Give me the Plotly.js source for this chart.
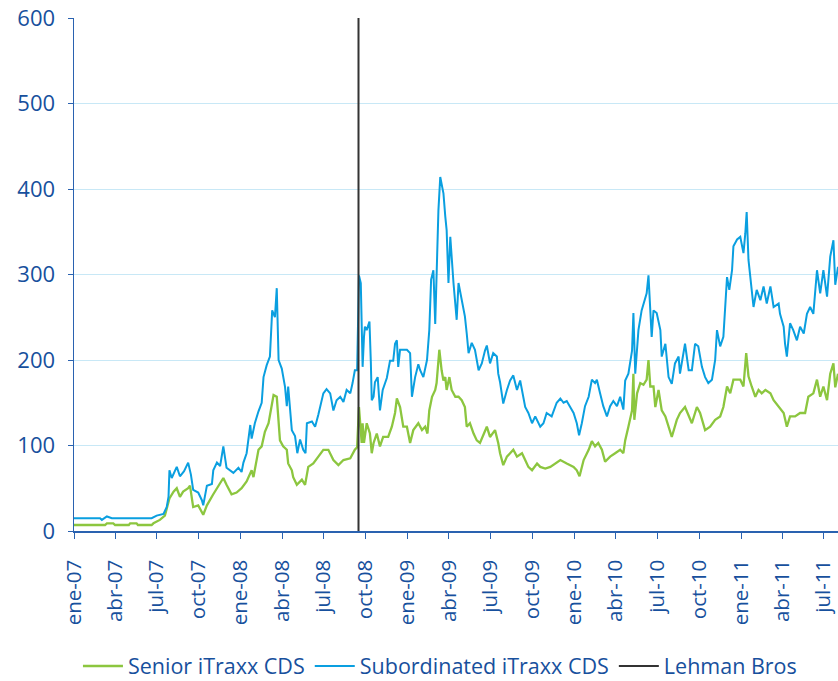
<!DOCTYPE html>
<html>
<head>
<meta charset="utf-8">
<script src="https://cdn.plot.ly/plotly-3.0.1.min.js"></script>
<style>html,body{margin:0;padding:0;background:#fff;}#chart{width:838px;height:681px;}</style>
</head>
<body>
<div id="chart"></div>
<script>
// Quarterly tick positions and Spanish labels
const tickDates = ['2007-01-01','2007-04-01','2007-07-01','2007-10-01','2008-01-01','2008-04-01','2008-07-01','2008-10-01','2009-01-01','2009-04-01','2009-07-01','2009-10-01','2010-01-01','2010-04-01','2010-07-01','2010-10-01','2011-01-01','2011-04-01','2011-07-01'];
const tickLabels = ['ene-07','abr-07','jul-07','oct-07','ene-08','abr-08','jul-08','oct-08','ene-09','abr-09','jul-09','oct-09','ene-10','abr-10','jul-10','oct-10','ene-11','abr-11','jul-11'];

// Subordinated iTraxx CDS (bp)
const subDates = ['2007-01-01','2007-02-27','2007-03-03','2007-03-14','2007-03-25','2007-06-20','2007-07-01','2007-07-16','2007-07-23','2007-07-27','2007-07-29','2007-08-03','2007-08-14','2007-08-21','2007-08-30','2007-09-08','2007-09-14','2007-09-19','2007-09-30','2007-10-08','2007-10-11','2007-10-19','2007-10-30','2007-11-02','2007-11-10','2007-11-17','2007-11-24','2007-12-01','2007-12-16','2007-12-27','2008-01-03','2008-01-07','2008-01-14','2008-01-22','2008-01-25','2008-02-01','2008-02-09','2008-02-16','2008-02-20','2008-02-27','2008-03-05','2008-03-10','2008-03-16','2008-03-20','2008-03-24','2008-03-31','2008-04-07','2008-04-11','2008-04-14','2008-04-18','2008-04-22','2008-04-29','2008-05-04','2008-05-10','2008-05-17','2008-05-22','2008-05-25','2008-06-05','2008-06-12','2008-06-19','2008-06-30','2008-07-07','2008-07-15','2008-07-22','2008-07-29','2008-08-06','2008-08-13','2008-08-20','2008-08-28','2008-09-02','2008-09-07','2008-09-12','2008-09-16','2008-09-20','2008-09-22','2008-09-24','2008-09-27','2008-09-29','2008-10-03','2008-10-09','2008-10-12','2008-10-14','2008-10-18','2008-10-21','2008-10-27','2008-11-01','2008-11-07','2008-11-12','2008-11-16','2008-11-23','2008-11-30','2008-12-04','2008-12-08','2008-12-11','2008-12-15','2008-12-22','2008-12-30','2009-01-06','2009-01-10','2009-01-17','2009-01-24','2009-01-28','2009-02-04','2009-02-12','2009-02-17','2009-02-21','2009-02-26','2009-03-02','2009-03-05','2009-03-09','2009-03-13','2009-03-16','2009-03-20','2009-03-24','2009-03-27','2009-03-31','2009-04-04','2009-04-11','2009-04-15','2009-04-18','2009-04-22','2009-05-03','2009-05-06','2009-05-10','2009-05-14','2009-05-21','2009-05-28','2009-06-05','2009-06-12','2009-06-19','2009-06-23','2009-06-30','2009-07-07','2009-07-15','2009-07-18','2009-07-22','2009-07-29','2009-08-06','2009-08-13','2009-08-20','2009-08-28','2009-09-04','2009-09-11','2009-09-15','2009-09-22','2009-09-30','2009-10-07','2009-10-18','2009-10-25','2009-11-01','2009-11-12','2009-11-23','2009-12-01','2009-12-08','2009-12-15','2009-12-22','2009-12-30','2010-01-06','2010-01-11','2010-01-17','2010-01-24','2010-02-01','2010-02-08','2010-02-15','2010-02-19','2010-02-26','2010-03-05','2010-03-13','2010-03-20','2010-03-27','2010-04-04','2010-04-11','2010-04-18','2010-04-22','2010-04-29','2010-05-07','2010-05-10','2010-05-14','2010-05-18','2010-05-21','2010-05-28','2010-06-01','2010-06-08','2010-06-12','2010-06-16','2010-06-19','2010-06-23','2010-06-30','2010-07-08','2010-07-11','2010-07-19','2010-07-26','2010-08-02','2010-08-09','2010-08-17','2010-08-20','2010-08-31','2010-09-08','2010-09-15','2010-09-22','2010-09-29','2010-10-07','2010-10-14','2010-10-21','2010-10-29','2010-11-05','2010-11-09','2010-11-16','2010-11-23','2010-12-01','2010-12-06','2010-12-12','2010-12-15','2010-12-23','2010-12-30','2011-01-06','2011-01-10','2011-01-13','2011-01-17','2011-01-21','2011-01-28','2011-02-04','2011-02-12','2011-02-19','2011-02-26','2011-03-06','2011-03-13','2011-03-24','2011-03-27','2011-04-04','2011-04-07','2011-04-11','2011-04-18','2011-04-25','2011-05-03','2011-05-10','2011-05-18','2011-05-25','2011-06-01','2011-06-08','2011-06-16','2011-06-23','2011-06-30','2011-07-08','2011-07-15','2011-07-22','2011-07-26','2011-08-01'];
const subValues = [15,15,13,17,15,15,18,20,28,40,71,62,75,64,70,80,66,48,45,36,30,53,55,71,80,76,99,74,68,74,69,80,91,124,108,126,140,150,180,194,204,258,250,284,200,190,169,146,169,141,118,111,91,107,95,91,126,128,122,136,161,166,161,141,153,157,151,165,161,173,188,188,299,290,251,192,227,239,235,245,198,153,157,174,180,141,165,173,179,199,199,219,223,192,212,212,212,208,157,180,195,188,180,200,235,294,305,242,297,375,414,406,395,368,352,290,344,290,266,247,290,261,251,231,208,220,212,188,196,211,217,196,208,204,184,174,149,165,176,182,165,176,157,145,138,126,134,122,126,138,134,150,155,150,152,146,138,126,112,126,146,157,177,173,177,161,146,134,146,152,146,157,142,176,184,211,255,184,211,235,258,266,278,299,262,227,258,255,235,204,219,180,172,196,204,184,219,188,188,219,216,192,180,173,177,200,235,216,227,297,282,305,333,341,344,325,348,373,317,294,262,282,270,286,266,286,262,266,254,239,219,204,243,235,223,239,231,254,262,254,305,278,305,274,321,340,288,309];

// Senior iTraxx CDS (bp)
const senDates = ['2007-01-01','2007-03-10','2007-03-14','2007-03-28','2007-04-01','2007-05-01','2007-05-04','2007-05-18','2007-05-21','2007-06-20','2007-06-24','2007-07-08','2007-07-19','2007-07-29','2007-08-07','2007-08-14','2007-08-21','2007-08-28','2007-09-08','2007-09-12','2007-09-19','2007-09-30','2007-10-11','2007-10-19','2007-11-02','2007-11-13','2007-11-24','2007-12-01','2007-12-12','2007-12-23','2008-01-03','2008-01-14','2008-01-25','2008-01-29','2008-02-09','2008-02-16','2008-02-23','2008-03-02','2008-03-09','2008-03-13','2008-03-20','2008-03-24','2008-03-27','2008-04-03','2008-04-11','2008-04-14','2008-04-22','2008-04-25','2008-05-03','2008-05-14','2008-05-21','2008-05-28','2008-06-08','2008-06-19','2008-06-30','2008-07-11','2008-07-22','2008-08-02','2008-08-13','2008-08-28','2008-09-07','2008-09-12','2008-09-16','2008-09-22','2008-09-24','2008-09-27','2008-10-03','2008-10-10','2008-10-14','2008-10-18','2008-10-25','2008-11-01','2008-11-08','2008-11-19','2008-11-27','2008-12-04','2008-12-08','2008-12-15','2008-12-19','2008-12-22','2008-12-30','2009-01-06','2009-01-13','2009-01-24','2009-02-01','2009-02-08','2009-02-13','2009-02-17','2009-02-23','2009-03-02','2009-03-05','2009-03-11','2009-03-16','2009-03-20','2009-03-24','2009-03-27','2009-04-02','2009-04-07','2009-04-15','2009-04-22','2009-04-29','2009-05-06','2009-05-10','2009-05-17','2009-05-25','2009-06-01','2009-06-08','2009-06-16','2009-06-23','2009-06-30','2009-07-11','2009-07-18','2009-07-22','2009-07-29','2009-08-06','2009-08-13','2009-08-20','2009-08-28','2009-09-08','2009-09-15','2009-09-22','2009-09-30','2009-10-11','2009-10-18','2009-10-29','2009-11-09','2009-11-20','2009-12-01','2009-12-15','2009-12-30','2010-01-06','2010-01-12','2010-01-21','2010-02-01','2010-02-08','2010-02-15','2010-02-22','2010-03-02','2010-03-09','2010-03-20','2010-03-31','2010-04-11','2010-04-18','2010-04-22','2010-04-29','2010-05-07','2010-05-10','2010-05-12','2010-05-18','2010-05-25','2010-06-01','2010-06-08','2010-06-12','2010-06-16','2010-06-23','2010-06-27','2010-07-04','2010-07-11','2010-07-19','2010-07-26','2010-08-02','2010-08-13','2010-08-20','2010-08-31','2010-09-08','2010-09-15','2010-09-26','2010-10-03','2010-10-14','2010-10-25','2010-11-05','2010-11-16','2010-11-23','2010-12-01','2010-12-08','2010-12-15','2010-12-30','2011-01-06','2011-01-12','2011-01-17','2011-01-24','2011-02-01','2011-02-08','2011-02-15','2011-02-23','2011-03-06','2011-03-13','2011-03-24','2011-04-04','2011-04-11','2011-04-18','2011-04-29','2011-05-10','2011-05-21','2011-05-28','2011-06-08','2011-06-16','2011-06-23','2011-06-30','2011-07-08','2011-07-15','2011-07-22','2011-07-26','2011-08-01'];
const senValues = [7,7,9,9,7,7,9,9,7,7,9,13,18,38,46,50,40,46,50,53,28,30,19,30,43,52,62,54,43,45,50,58,71,63,95,99,116,126,145,159,157,128,106,99,95,79,71,63,54,60,54,75,79,87,95,95,83,77,83,85,95,98,145,103,126,103,126,114,91,103,114,99,110,110,122,138,155,145,134,122,122,103,118,126,118,122,114,141,157,165,173,212,188,176,180,165,180,165,157,157,153,145,122,126,114,106,103,114,122,110,118,103,91,77,87,91,95,87,91,83,75,71,79,75,73,75,79,83,79,75,71,64,83,95,105,99,103,95,81,87,91,95,91,106,122,141,184,130,161,173,171,177,200,169,169,145,165,141,134,122,110,130,138,145,134,126,145,138,118,122,130,134,145,169,161,177,177,169,208,181,169,157,165,161,165,161,153,145,138,122,134,134,138,138,157,161,177,157,169,153,184,196,168,184];

// Lehman Brothers collapse marker
const lehmanDate = '2008-09-15';
const yMin = 0, yMax = 600;

const textColor = '#17509d';
const axisColor = '#2a62b0';
const fontFamily = '"Open Sans", "DejaVu Sans", sans-serif';

const traces = [
  {x: senDates, y: senValues, type: 'scatter', mode: 'lines', name: 'Senior iTraxx CDS',
   line: {color: '#8cc63f', width: 2.3}},
  {x: subDates, y: subValues, type: 'scatter', mode: 'lines', name: 'Subordinated iTraxx CDS',
   line: {color: '#0a9fe0', width: 2}},
  {x: [lehmanDate, lehmanDate], y: [yMin, yMax], type: 'scatter', mode: 'lines', name: 'Lehman Bros',
   line: {color: '#333333', width: 2}}
];

const layout = {
  width: 838, height: 681,
  margin: {l: 74, r: 0, t: 18, b: 150},
  paper_bgcolor: '#ffffff', plot_bgcolor: '#ffffff',
  font: {family: fontFamily, color: textColor, size: 20},
  showlegend: true,
  legend: {orientation: 'h', xref: 'container', yref: 'container', x: 0.525, xanchor: 'center',
           y: 0.022, yanchor: 'middle', font: {size: 21.5, color: textColor, family: fontFamily},
           traceorder: 'normal', itemwidth: 40},
  xaxis: {type: 'date', range: ['2007-01-01', '2011-08-01'], tickvals: tickDates, ticktext: tickLabels,
          tickangle: -90, ticks: 'outside', ticklen: 6, tickcolor: axisColor, tickwidth: 1,
          showline: true, linecolor: axisColor, linewidth: 1.5, showgrid: false, zeroline: false,
          tickfont: {size: 20.5, color: textColor, family: fontFamily}, ticklabelstandoff: 13},
  yaxis: {range: [yMin, yMax], dtick: 100, tick0: 0, ticks: 'outside', ticklen: 5, tickcolor: axisColor,
          showline: true, linecolor: axisColor, linewidth: 1.5, showgrid: true, gridcolor: '#c8e8f6',
          gridwidth: 1, zeroline: false, tickfont: {size: 22, color: textColor, family: fontFamily},
          ticklabelstandoff: 8}
};

Plotly.newPlot('chart', traces, layout, {displayModeBar: false, staticPlot: true});
</script>
</body>
</html>
